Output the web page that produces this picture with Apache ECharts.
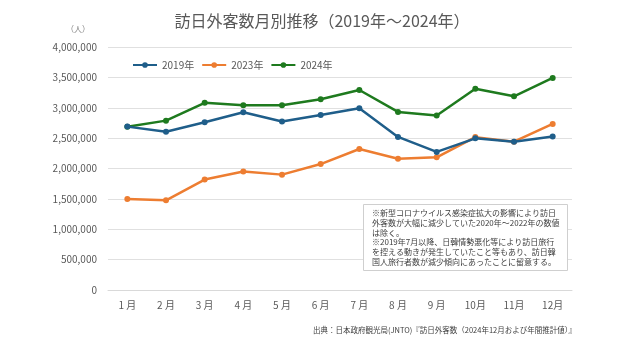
<!DOCTYPE html>
<html><head><meta charset="utf-8">
<script src="https://cdn.jsdelivr.net/npm/echarts@6/dist/echarts.min.js"></script>
<style>html,body{margin:0;padding:0;background:#fff}#c{width:644px;height:347px}</style>
</head><body><div id="c"></div>
<script>
const months = ['1月','2月','3月','4月','5月','6月','7月','8月','9月','10月','11月','12月'];
const monthLabels = ['1 月','2 月','3 月','4 月','5 月','6 月','7 月','8 月','9 月','10月','11月','12月'];
const v2019 = [2689339,2604322,2760136,2926685,2773091,2880041,2991189,2520134,2272883,2496568,2441274,2526387];
const v2023 = [1497472,1475455,1817614,1949236,1899176,2073350,2320586,2159600,2184300,2516500,2441300,2734000];
const v2024 = [2688100,2788000,3081600,3042900,3040000,3140000,3292500,2932000,2872200,3312200,3188400,3489800];
const seriesNames = ['2019年','2023年','2024年'];
const colors = ['#1F5E8A','#ED7D31','#1E7A1E'];
const font = '"Noto Sans CJK JP","Noto Sans",sans-serif';
const noteLines = ['※新型コロナウイルス感染症拡大の影響により訪日','外客数が大幅に減少していた2020年〜2022年の数値','は除く。','※2019年7月以降、日韓情勢悪化等により訪日旅行','を控える動きが発生していたこと等もあり、訪日韓','国人旅行者数が減少傾向にあったことに留意する。'];
const chart = echarts.init(document.getElementById('c'));
const mk = (name, data, i) => ({
  name, type:'line', data, color: colors[i], symbol:'circle', symbolSize:6,
  lineStyle:{width:2.5, color:colors[i]}, itemStyle:{color:colors[i]}, z: 10 - i
});
chart.setOption({
  animation:false,
  textStyle:{fontFamily:font},
  title:{text:'訪日外客数月別推移（2019年～2024年）', left:'center', top:8,
    textStyle:{fontSize:16, fontWeight:'normal', color:'#595959', fontFamily:font}},
  legend:{data:seriesNames, left:127, top:55, itemWidth:24, itemHeight:7, itemGap:7,
    textStyle:{fontSize:10, color:'#595959'}},
  grid:{left:108, right:72, top:47, bottom:57},
  xAxis:{type:'category', data:monthLabels, boundaryGap:true,
    axisLine:{show:true, lineStyle:{color:'#d9d9d9'}}, axisTick:{show:false},
    axisLabel:{color:'#595959', fontSize:10, margin:10}},
  yAxis:{type:'value', min:0, max:4000000, interval:500000,
    axisLine:{show:false}, axisTick:{show:false},
    splitLine:{lineStyle:{color:'#e0e0e0', width:1}},
    axisLabel:{color:'#595959', fontSize:10, margin:11,
      formatter:v=>v.toLocaleString('en-US')}},
  series:[mk(seriesNames[0], v2019, 0), mk(seriesNames[1], v2023, 1), mk(seriesNames[2], v2024, 2)],
  graphic:[
    {type:'text', left:66, top:25, style:{text:'（人）', fill:'#7f7f7f', fontSize:8, fontFamily:font}},
    {type:'rect', left:363, top:204, shape:{width:204, height:66}, style:{fill:'#fff', stroke:'#cfcfcf', lineWidth:1}, z:100},
    {type:'text', left:372, top:208, z:101, style:{text:noteLines.join('\n'), fill:'#404040', fontSize:8, lineHeight:9.8, fontFamily:font}},
    {type:'text', right:68, top:326, style:{text:'出典：日本政府観光局(JNTO)『訪日外客数（2024年12月および年間推計値）』', fill:'#404040', fontSize:7.5, fontFamily:font}}
  ]
});
</script></body></html>
